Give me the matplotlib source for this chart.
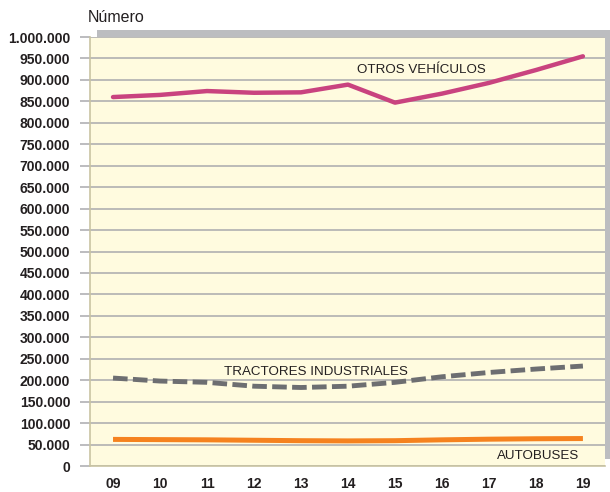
import matplotlib
matplotlib.use("Agg")
import matplotlib.pyplot as plt
from matplotlib.patches import Rectangle
from matplotlib.ticker import FuncFormatter

years = ["09", "10", "11", "12", "13", "14", "15", "16", "17", "18", "19"]
otros = [860000, 865000, 874000, 870000, 871000, 889000, 847000, 868000, 893000, 923000, 955000]
tractores = [205000, 198000, 195000, 186000, 183000, 186000, 195000, 208000, 218000, 226000, 233000]
autobuses = [62000, 61500, 61000, 60000, 59000, 58500, 59000, 61000, 62500, 63500, 64000]
yticks = list(range(0, 1000001, 50000))

W, H = 610, 492
fig = plt.figure(figsize=(W / 100, H / 100), dpi=100)
fig.patch.set_facecolor("white")

L, R, T, B = 90, 605, 37, 466
ax = fig.add_axes([L / W, (H - B) / H, (R - L) / W, (B - T) / H])
ax.set_facecolor("#FFFBDF")

# shadow
sh = Rectangle(((L + 7) / W, (H - B + 7) / H), (R - L) / W, (B - T) / H,
               transform=fig.transFigure, facecolor="#BCBDC0", edgecolor="none", zorder=-1)
fig.add_artist(sh)

narrow = ["Liberation Sans Narrow", "Liberation Sans", "DejaVu Sans"]
x = list(range(len(years)))

ax.plot(x, otros, color="#C9437F", lw=3.2, solid_capstyle="round", zorder=3)
ax.plot(x, tractores, color="#6D6E71", lw=3.5, ls=(0, (3, 1.1)), zorder=3)
ax.plot(x, autobuses, color="#F5821F", lw=3.6, solid_capstyle="butt", zorder=3)

ax.set_xlim(-0.49, 10.47)
ax.set_ylim(0, 1000000)
ax.set_yticks(yticks)
ax.yaxis.set_major_formatter(FuncFormatter(lambda v, p: "0" if v == 0 else f"{int(v):,}".replace(",", ".")))
ax.set_xticks(x)
ax.set_xticklabels(years)

ax.grid(axis="y", color="#A9AAAD", lw=1.1, zorder=1)
ax.set_axisbelow(True)
ax.tick_params(axis="y", length=7.2, width=1.1, color="#A9AAAD", pad=7)
ax.tick_params(axis="x", length=0, pad=8)
for lab in ax.get_yticklabels() + ax.get_xticklabels():
    lab.set_family(narrow)
    lab.set_fontweight("bold")
    lab.set_fontsize(10)
    lab.set_color("#231F20")

for s in ["top", "right"]:
    ax.spines[s].set_visible(False)
for s in ["left", "bottom"]:
    ax.spines[s].set_color("#C9C4A2")
    ax.spines[s].set_linewidth(1.2)

lblfont = ["Liberation Sans", "DejaVu Sans"]
ax.text(421 / W, (H - 70) / H, "OTROS VEHÍCULOS", transform=fig.transFigure,
        ha="center", va="center", fontsize=9.6, color="#231F20", family=lblfont)
ax.text(316 / W, (H - 372) / H, "TRACTORES INDUSTRIALES", transform=fig.transFigure,
        ha="center", va="center", fontsize=9.6, color="#231F20", family=lblfont)
ax.text(538 / W, (H - 456) / H, "AUTOBUSES", transform=fig.transFigure,
        ha="center", va="center", fontsize=9.6, color="#231F20", family=lblfont)

fig.text(88 / W, (H - 18) / H, "Número", ha="left", va="center", fontsize=11.5,
         color="#231F20", family=lblfont)

fig.savefig("out.png", dpi=100)
